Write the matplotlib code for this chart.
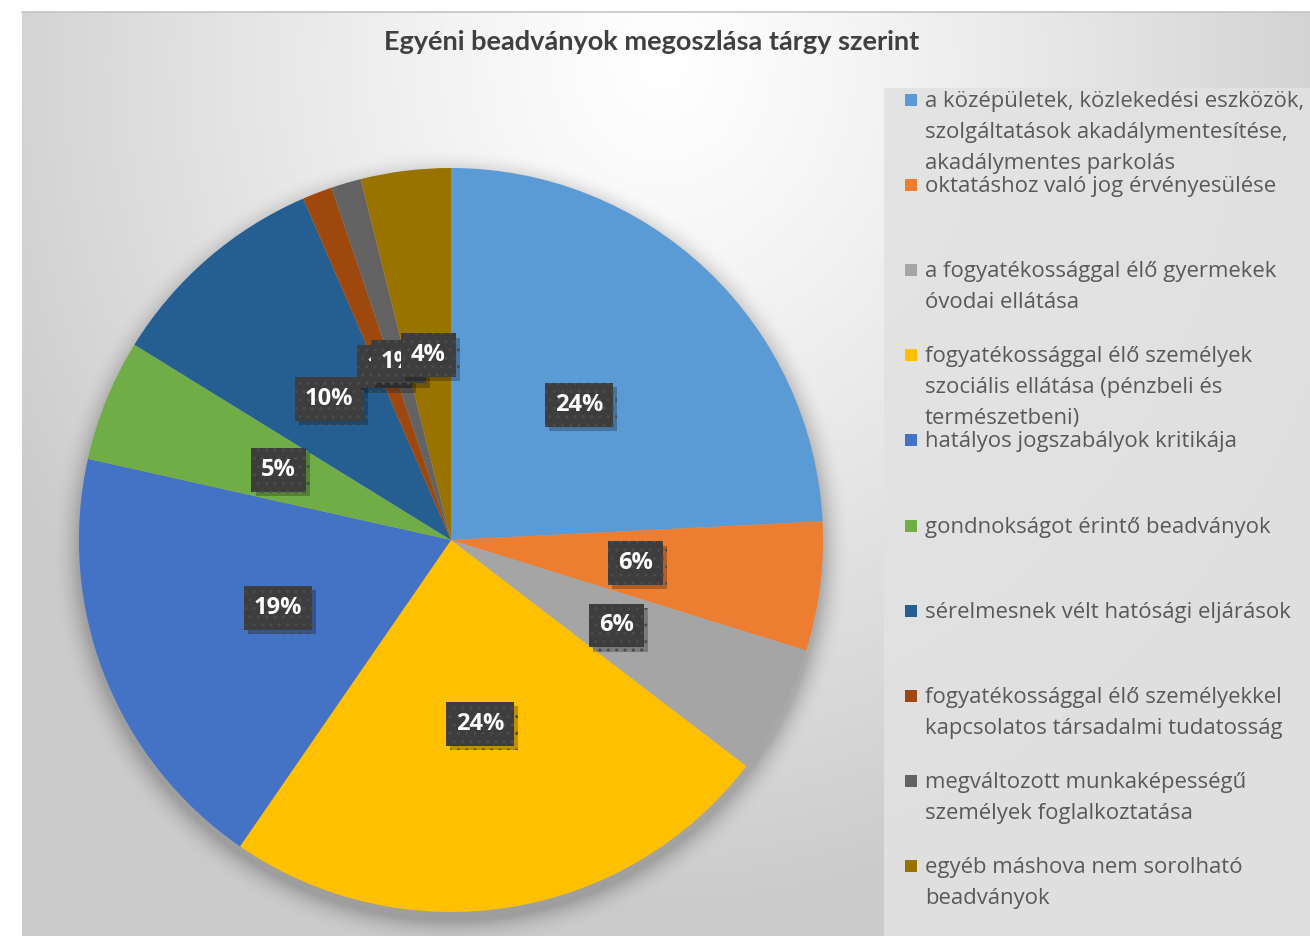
import numpy as np
import matplotlib
matplotlib.use("Agg")
import matplotlib.pyplot as plt
from matplotlib.patches import Rectangle
from matplotlib import patheffects as pe

# adatok (százalékos megoszlás)
values = [24.2, 5.6, 5.6, 24.2, 18.9, 5.3, 9.7, 1.3, 1.3, 3.9]
colors = ['#5B9BD5', '#ED7D31', '#A5A5A5', '#FFC000', '#4472C4',
          '#70AD47', '#255E91', '#9E480E', '#636363', '#997300']
labels = [
    "a középületek, közlekedési eszközök,\nszolgáltatások akadálymentesítése,\nakadálymentes parkolás",
    "oktatáshoz való jog érvényesülése",
    "a fogyatékossággal élő gyermekek\nóvodai ellátása",
    "fogyatékossággal élő személyek\nszociális ellátása (pénzbeli és\ntermészetbeni)",
    "hatályos jogszabályok kritikája",
    "gondnokságot érintő beadványok",
    "sérelmesnek vélt hatósági eljárások",
    "fogyatékossággal élő személyekkel\nkapcsolatos társadalmi tudatosság",
    "megváltozott munkaképességű\nszemélyek foglalkoztatása",
    "egyéb máshova nem sorolható\nbeadványok",
]
title = "Egyéni beadványok megoszlása tárgy szerint"

plt.rcParams['font.family'] = ['Lato', 'DejaVu Sans']

W, H = 1310, 936
fig = plt.figure(figsize=(W / 100, H / 100), dpi=100)
fig.patch.set_facecolor('white')

# háttér: radiális színátmenet + árnyék a kör alatt
x0, y0 = 22, 12
bw, bh = W - x0, H - y0
yy, xx = np.mgrid[0:bh, 0:bw]
d = np.sqrt(((xx - 640) / 750.0) ** 2 + ((yy - 50) / 850.0) ** 2)
g = 255 - 52 * np.clip(d, 0, 1) ** 1.2
pcx, pcy, pr = 451 - x0, 548 - y0, 372
rr = np.sqrt((xx - pcx) ** 2 + (yy - pcy) ** 2)
sh = np.clip(1 - (rr - pr) / 28.0, 0, 1) ** 2
g = g * (1 - 0.22 * sh)
img = np.dstack([g, g, g]) / 255.0
bg = fig.add_axes([x0 / W, 0, bw / W, bh / H])
bg.imshow(img, aspect='auto', interpolation='bilinear')
bg.axis('off')
fig.add_artist(plt.Line2D([x0 / W, 1], [bh / H, bh / H], color='#c4c4c4', lw=1.2))

# jelmagyarázat doboz
fig.add_artist(Rectangle((884 / W, 0), (W - 884) / W, (H - 88) / H,
                         transform=fig.transFigure, facecolor='#e2e2e2',
                         edgecolor='none', alpha=0.9))

# kördiagram
cx, cy, r = 451, 540, 372
ax = fig.add_axes([(cx - r) / W, (H - cy - r) / H, 2 * r / W, 2 * r / H])
wedges, texts, autotexts = ax.pie(
    values, colors=colors, startangle=90, counterclock=False,
    autopct='%1.0f%%', pctdistance=0.5,
    textprops=dict(color='white', fontsize=17, fontweight='bold',
                   family=['Open Sans', 'DejaVu Sans']),
    wedgeprops=dict(linewidth=0))
for t in autotexts:
    t.set_bbox(dict(boxstyle='square,pad=0.42', facecolor='#3d3d3d',
                    edgecolor='#4b4b4b', hatch='..', linewidth=0))
    t.get_bbox_patch().set_path_effects(
        [pe.SimplePatchShadow(offset=(3, -3), shadow_rgbFace='black', alpha=0.25),
         pe.Normal()])
ax.set_xlim(-1, 1)
ax.set_ylim(-1, 1)
ax.set_aspect('equal')
ax.axis('off')

fig.text(652 / W, 1 - 50 / H, title, ha='center', va='baseline',
         fontsize=19.5, fontweight='bold', color='#404040')

# jelmagyarázat elemek
for i, (lab, col) in enumerate(zip(labels, colors)):
    base = 107 + i * 85.1
    fig.add_artist(Rectangle((905 / W, 1 - (base - 1) / H), 12 / W, 12 / H,
                             transform=fig.transFigure, facecolor=col,
                             edgecolor='none'))
    for j, line in enumerate(lab.split('\n')):
        fig.text(925 / W, 1 - (base + j * 31) / H, line, ha='left',
                 va='baseline', fontsize=15.9, color='#595959',
                 family=['Open Sans', 'DejaVu Sans'])

fig.savefig('out.png', dpi=100)
